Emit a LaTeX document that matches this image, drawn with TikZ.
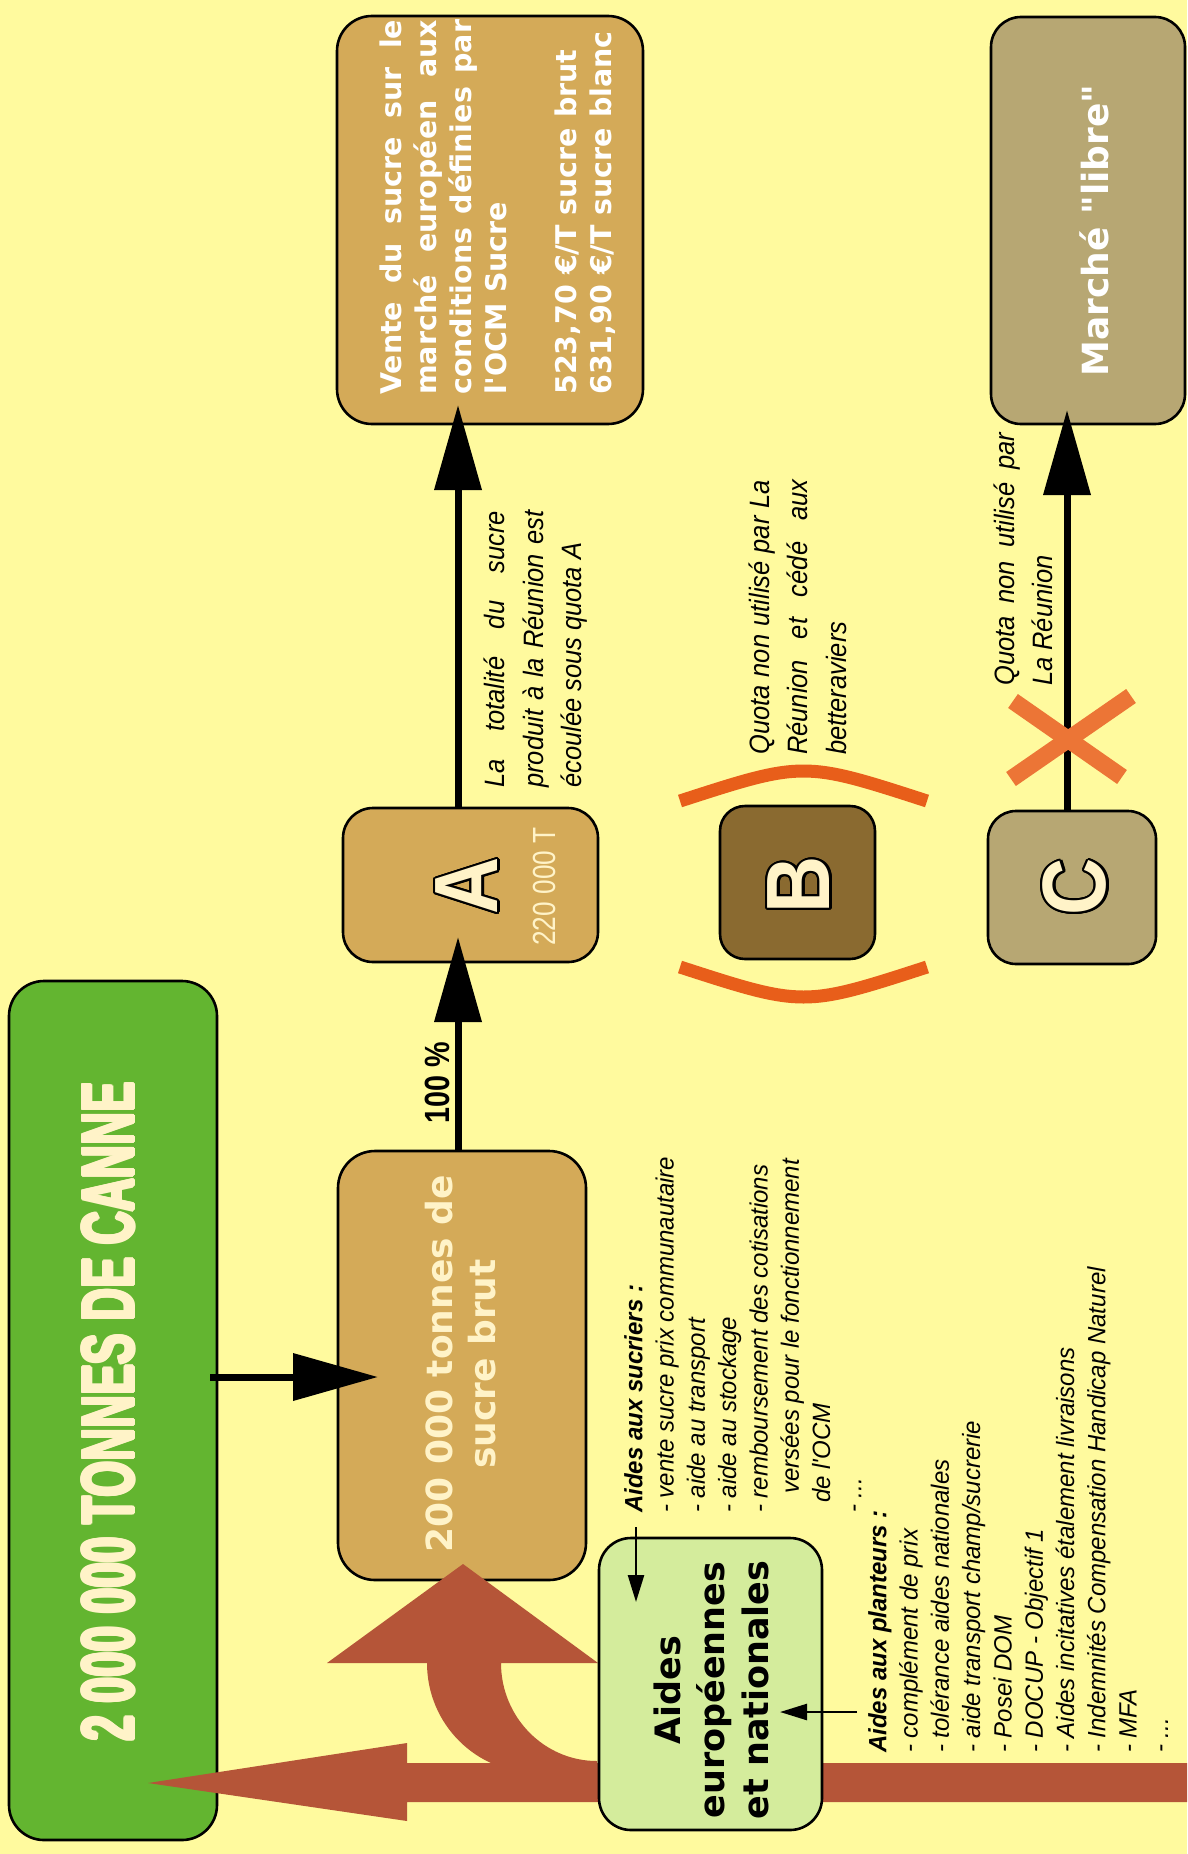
\documentclass[tikz,border=0pt]{standalone}
\usepackage{fontspec}
\setmainfont{Liberation Sans}
\newfontfamily\dvfont{DejaVu Sans}
\newfontfamily\narrowfont{Liberation Sans}[FakeStretch=0.91]
\newfontfamily\listfont{Liberation Sans}[FakeStretch=0.96]
\newfontfamily\condfont{Liberation Sans}[FakeStretch=0.62]
\newfontfamily\lettfont{Liberation Sans}[FakeStretch=0.88]
\newfontfamily\numfont{Liberation Sans}[FakeStretch=0.82]
\usetikzlibrary{arrows.meta,calc}
\definecolor{bgyellow}{RGB}{255,250,158}
\definecolor{cannegreen}{RGB}{99,181,48}
\definecolor{tanbox}{RGB}{212,170,88}
\definecolor{bbrown}{RGB}{138,106,48}
\definecolor{khaki}{RGB}{183,167,115}
\definecolor{lightgreen}{RGB}{212,236,156}
\definecolor{redarrow}{RGB}{181,85,56}
\definecolor{arcorange}{RGB}{232,94,26}
\definecolor{xorange}{RGB}{236,117,54}
\definecolor{cream}{RGB}{255,243,200}
\newcommand\olet[3]{%
  \foreach \ang in {0,22.5,...,337.5}{%
    \node[letterstyle,text=black] (#1-\ang) at ($(#2)+(\ang:2.2)$) {#3};}
  \node[letterstyle,text=cream] (#1) at (#2) {#3};}
\begin{document}
\begin{tikzpicture}[x=1pt,y=-1pt,
  box/.style={draw=black,line width=2.6pt,inner sep=0pt,outer sep=0pt,rounded corners=30pt},
  bigarrow/.style={line width=7pt,-{Triangle[length=85pt,width=46pt]}},
  smallarrow/.style={line width=2.5pt,-{Triangle[length=27pt,width=16pt]}},
  letterstyle/.style={rotate=90,inner sep=0pt,font=\lettfont\bfseries\fontsize{90}{90}\selectfont},
  cannestyle/.style={rotate=90,inner sep=0pt,text=cream,font=\condfont\bfseries\fontsize{74}{80}\selectfont},
  lbl/.style={rotate=90,anchor=north west,align=justify,inner sep=0pt,
    font=\narrowfont\itshape\fontsize{28}{38.5}\selectfont},
  lst/.style={rotate=90,anchor=north west,align=left,inner sep=0pt,
    font=\listfont\itshape\fontsize{25}{31.3}\selectfont}]
\fill[bgyellow] (0,0) rectangle (1187,1854);
\useasboundingbox (0,0) rectangle (1187,1854);

% boxes
\node[box,fill=cannegreen,minimum width=208pt,minimum height=859pt,rounded corners=35pt] (canne) at (113,1410.5) {};
\node[box,fill=tanbox,minimum width=248pt,minimum height=429pt,rounded corners=37pt] (brut) at (462,1365.5) {};
\node[box,fill=tanbox,minimum width=255pt,minimum height=154pt] (A) at (470.5,885) {};
\node[box,fill=tanbox,minimum width=306pt,minimum height=408pt,rounded corners=35pt] (vente) at (490,220) {};
\node[box,fill=bbrown,minimum width=155pt,minimum height=153pt,rounded corners=25pt] (B) at (797.5,882.5) {};
\node[box,fill=khaki,minimum width=168pt,minimum height=153pt,rounded corners=28pt] (C) at (1072,887.5) {};
\node[box,fill=khaki,minimum width=194pt,minimum height=407pt] (marche) at (1088,220.5) {};

% big red arrows
\fill[redarrow] (1187,1763) -- (407,1763) -- (407,1743) -- (148,1783) -- (407,1821) -- (407,1802) -- (1187,1802) -- cycle;
\fill[redarrow] (327,1663) -- (463,1564) -- (598,1663) -- (501,1663)
  .. controls (501,1717) and (544,1761) .. (597,1761) -- (597,1780) -- (537,1780) -- (537,1773)
  .. controls (476,1773) and (427,1724) .. (427,1663) -- cycle;

\node[box,fill=lightgreen,minimum width=223pt,minimum height=292pt,rounded corners=32pt] (aides) at (710.5,1684) {};

% texts in boxes
\foreach \ang in {0,45,...,315}{%
  \node[cannestyle] (canneT-\ang) at ($(108.5,1411.5)+(\ang:1.4)$) {2 000 000 TONNES DE CANNE};}
\node[cannestyle] (canneT) at (108.5,1411.5) {2 000 000 TONNES DE CANNE};
\node[rotate=90,inner sep=0pt,text=cream,align=center,font=\dvfont\bfseries\fontsize{36}{43}\selectfont] (brutT) at (461,1364) {200 000 tonnes de\\sucre brut};
\node[rotate=90,inner sep=0pt,align=center,font=\dvfont\bfseries\fontsize{35}{44}\selectfont] (aidesT) at (711.5,1690) {Aides\\européennes\\et nationales};
\node[rotate=90,inner sep=0pt,text=white,font=\dvfont\bfseries\fontsize{36}{43}\selectfont] (marcheT) at (1094,230.5) {Marché "libre"};
\node[rotate=90,inner sep=0pt,text=cream,font=\numfont\fontsize{32}{36}\selectfont] (tonA) at (544,886.5) {220 000 T};
\node[rotate=90,anchor=north west,text width=375pt,align=justify,inner sep=0pt,text=white,
  font=\dvfont\bfseries\fontsize{28.5}{35}\selectfont] (venteT) at (380,395)
  {\noindent Vente du sucre sur le\linebreak marché européen aux\linebreak conditions définies par\linebreak l'OCM Sucre\par\vskip35pt
   \noindent 523,70 €/T sucre brut\\631,90 €/T sucre blanc};

\olet{Alet}{467,886}{A}
\olet{Blet}{799,885}{B}
\olet{Clet}{1075,887}{C}

% labels
\node[lbl,text width=277pt] (lblA) at (484,788) {\noindent La totalité du sucre\linebreak produit à la Réunion est\linebreak écoulée sous quota A};
\node[lbl,text width=275pt] (lblB) at (748.5,755) {\noindent Quota non utilisé par La\linebreak Réunion et cédé aux\linebreak betteraviers};
\node[lbl,text width=253pt] (lblC) at (993.5,686) {\noindent Quota non utilisé par\linebreak La Réunion};
\node[rotate=90,inner sep=0pt,font=\numfont\bfseries\fontsize{35}{40}\selectfont] (pct) at (437.5,1083) {100 \%};

\node[lst] (sucT) at (624,1513) {\textbf{Aides aux sucriers :}\\- vente sucre prix communautaire\\- aide au transport\\- aide au stockage\\- remboursement des cotisations\\\hspace*{19pt}versées pour le fonctionnement\\\hspace*{10pt}de l'OCM\\- ...};
\node[lst] (plaT) at (868,1753) {\textbf{Aides aux planteurs :}\\- complément de prix\\- tolérance aides nationales\\- aide transport champ/sucrerie\\- Posei DOM\\- DOCUP - Objectif 1\\- Aides incitatives étalement livraisons\\- Indemnités Compensation Handicap Naturel\\- MFA\\- ...};

% black arrows
\coordinate (colA) at (458,0);
\coordinate (colC) at (1067,0);
\coordinate (rowG) at (0,1377);
\draw[bigarrow,shorten <=-7pt,shorten >=-40pt] (canne.east |- rowG) -- (brut.west |- rowG);
\draw[bigarrow,shorten >=-25pt] (brut.north -| colA) -- (A.south -| colA);
\draw[bigarrow,shorten >=-19pt] (A.north -| colA) -- (vente.south -| colA);
\draw[bigarrow,shorten >=-14pt] (C.north -| colC) -- (marche.south -| colC);
\coordinate (sucA) at (636,1527);
\coordinate (plaA) at (857,1712);
\draw[smallarrow,shorten >=-64pt] (sucA) -- (aides.north -| sucA);
\draw[smallarrow,shorten >=-42pt] (plaA) -- (aides.east |- plaA);

% orange marks
\draw[arcorange,line width=13pt] (680,801) .. controls (803.5,761) .. (927,801);
\draw[arcorange,line width=13pt] (680,967) .. controls (803.5,1007) .. (927,967);
\draw[xorange,line width=17pt] (1013,701) -- (1122,777);
\draw[xorange,line width=17pt] (1131,696) -- (1011,779);
\end{tikzpicture}
\end{document}
